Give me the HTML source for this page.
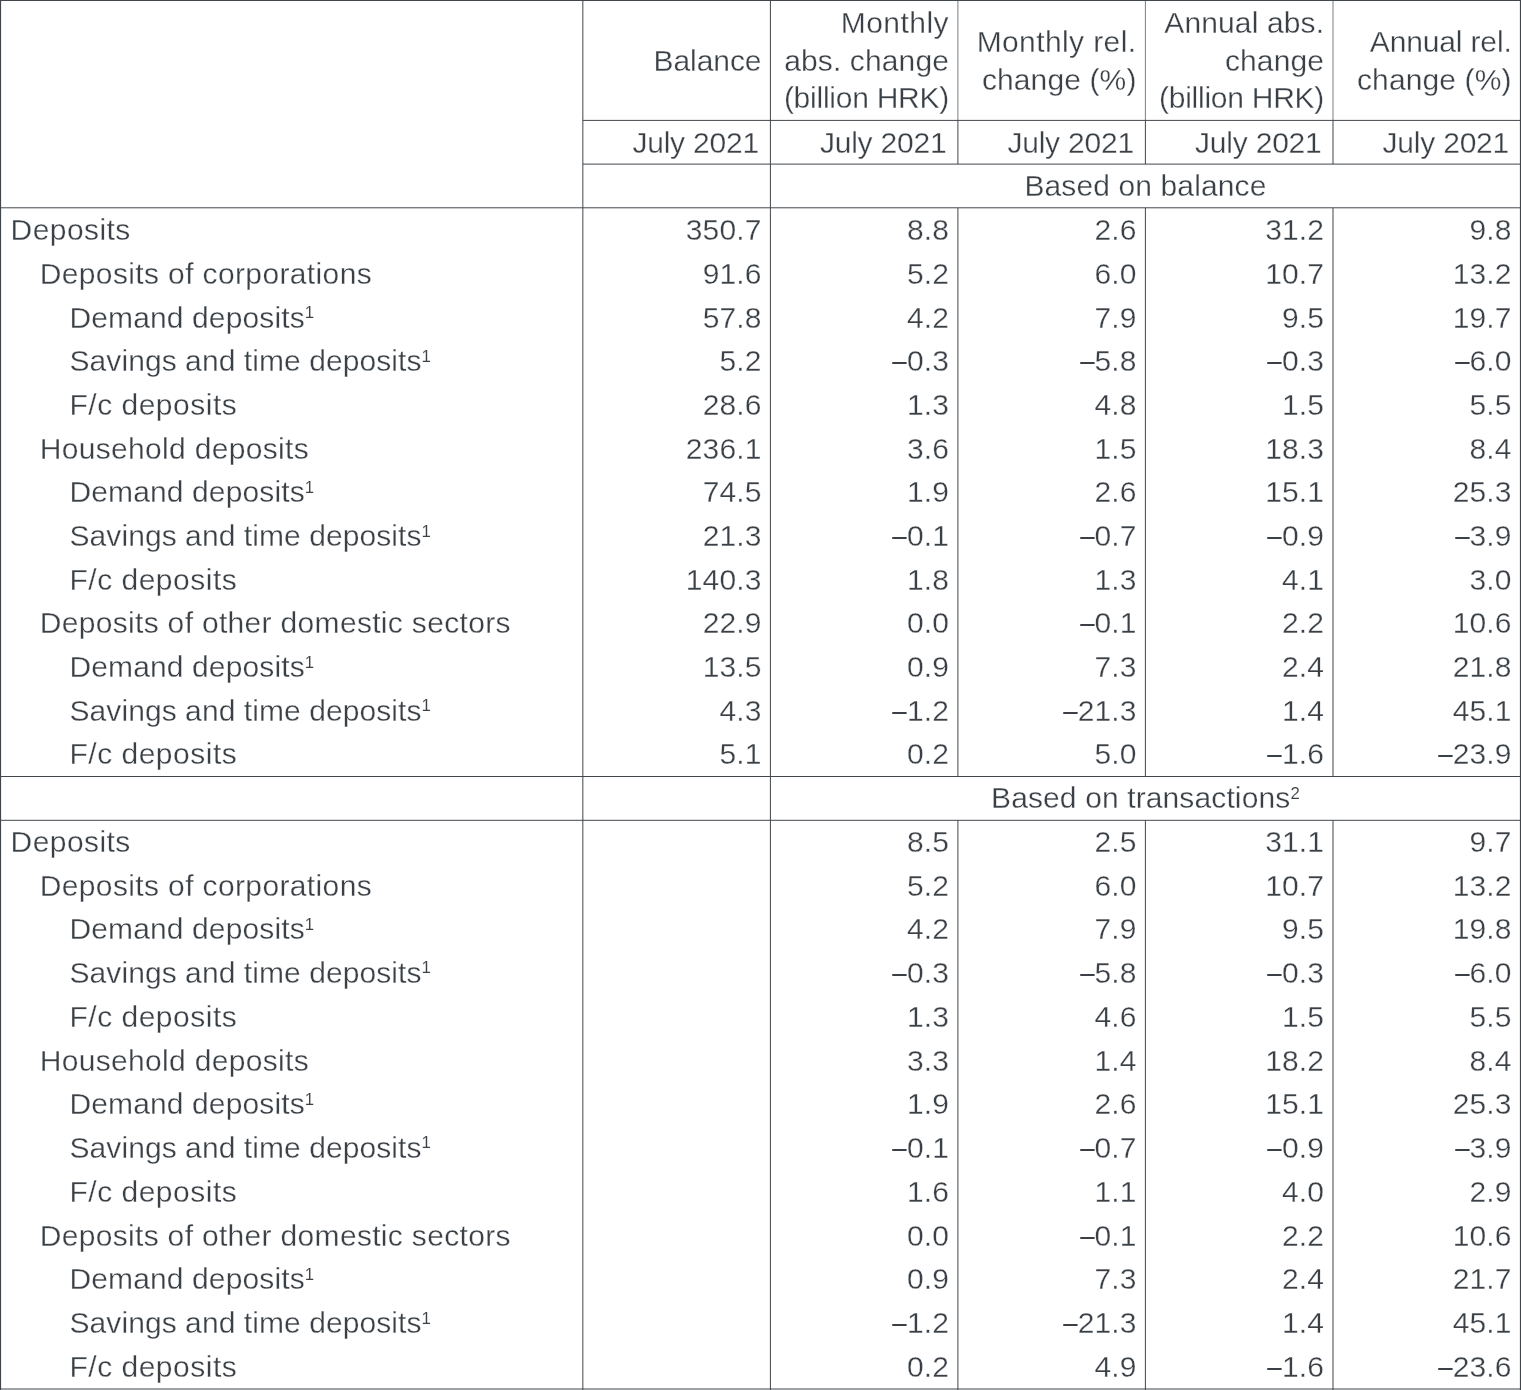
<!DOCTYPE html>
<html lang="en"><head><meta charset="utf-8"><title>Deposits</title>
<style>
html,body{margin:0;padding:0;background:#fff;}
body{width:1521px;height:1390px;position:relative;overflow:hidden;}
#g{position:absolute;left:0;top:0;}
#x{position:absolute;left:0;top:0;width:1521.00px;height:1390px;transform:scaleX(1.0);transform-origin:0 0;will-change:transform;
 font-family:"Liberation Sans",Arial,Helvetica,sans-serif;font-size:30.0px;line-height:32.0px;color:#3a4046;}
.t{position:absolute;white-space:nowrap;letter-spacing:0.12px;height:32.0px;-webkit-text-stroke:0.3px #fff;}
.l{text-align:left} .r{text-align:right} .c{text-align:center}

.d{display:inline-block;-webkit-text-stroke:0;transform:scaleX(0.86);transform-origin:100% 50%;}
sup{font-size:0.56em;line-height:0;vertical-align:baseline;position:relative;top:-0.55em;-webkit-text-stroke:0.1px #fff;}
</style></head><body>
<svg id="g" width="1521" height="1390" viewBox="0 0 1521 1390">
<line x1="0" y1="0.5" x2="1521" y2="0.5" stroke="#41464c" stroke-width="1.2"/>
<line x1="0" y1="1389.0" x2="1521" y2="1389.0" stroke="#41464c" stroke-width="1.2"/>
<line x1="0.5" y1="0" x2="0.5" y2="1390" stroke="#41464c" stroke-width="1.2"/>
<line x1="1520.5" y1="0" x2="1520.5" y2="1390" stroke="#41464c" stroke-width="1.2"/>
<line x1="582.85" y1="120.4" x2="1521" y2="120.4" stroke="#41464c" stroke-width="1.0"/>
<line x1="582.85" y1="164.1" x2="1521" y2="164.1" stroke="#41464c" stroke-width="1.0"/>
<line x1="0" y1="207.8" x2="1521" y2="207.8" stroke="#41464c" stroke-width="1.0"/>
<line x1="0" y1="776.5" x2="1521" y2="776.5" stroke="#41464c" stroke-width="1.0"/>
<line x1="0" y1="820.3" x2="1521" y2="820.3" stroke="#41464c" stroke-width="1.0"/>
<line x1="582.85" y1="0" x2="582.85" y2="1390" stroke="#41464c" stroke-width="1.0"/>
<line x1="770.4" y1="0" x2="770.4" y2="1390" stroke="#41464c" stroke-width="1.0"/>
<line x1="957.9" y1="0" x2="957.9" y2="120.4" stroke="#41464c" stroke-width="0.7"/>
<line x1="957.9" y1="120.4" x2="957.9" y2="164.1" stroke="#41464c" stroke-width="1.0"/>
<line x1="957.9" y1="207.8" x2="957.9" y2="776.5" stroke="#41464c" stroke-width="1.0"/>
<line x1="957.9" y1="820.3" x2="957.9" y2="1390" stroke="#41464c" stroke-width="1.0"/>
<line x1="1145.4" y1="0" x2="1145.4" y2="120.4" stroke="#41464c" stroke-width="0.7"/>
<line x1="1145.4" y1="120.4" x2="1145.4" y2="164.1" stroke="#41464c" stroke-width="1.0"/>
<line x1="1145.4" y1="207.8" x2="1145.4" y2="776.5" stroke="#41464c" stroke-width="1.0"/>
<line x1="1145.4" y1="820.3" x2="1145.4" y2="1390" stroke="#41464c" stroke-width="1.0"/>
<line x1="1333.0" y1="0" x2="1333.0" y2="120.4" stroke="#41464c" stroke-width="0.7"/>
<line x1="1333.0" y1="120.4" x2="1333.0" y2="164.1" stroke="#41464c" stroke-width="1.0"/>
<line x1="1333.0" y1="207.8" x2="1333.0" y2="776.5" stroke="#41464c" stroke-width="1.0"/>
<line x1="1333.0" y1="820.3" x2="1333.0" y2="1390" stroke="#41464c" stroke-width="1.0"/>
</svg>
<div id="x">
<div class="t r" style="left:361.50px;width:400.00px;top:44.95px;letter-spacing:-0.05px">Balance</div>
<div class="t r" style="left:549.00px;width:400.00px;top:7.46px;letter-spacing:0.45px">Monthly</div>
<div class="t r" style="left:549.00px;width:400.00px;top:44.95px">abs. change</div>
<div class="t r" style="left:549.00px;width:400.00px;top:82.45px;letter-spacing:-0.25px">(billion HRK)</div>
<div class="t r" style="left:736.50px;width:400.00px;top:26.21px;letter-spacing:0.4px">Monthly rel.</div>
<div class="t r" style="left:736.50px;width:400.00px;top:63.70px">change (%)</div>
<div class="t r" style="left:924.10px;width:400.00px;top:7.46px;letter-spacing:0.12px">Annual abs.</div>
<div class="t r" style="left:924.10px;width:400.00px;top:44.95px">change</div>
<div class="t r" style="left:924.10px;width:400.00px;top:82.45px;letter-spacing:-0.25px">(billion HRK)</div>
<div class="t r" style="left:1111.60px;width:400.00px;top:26.21px;letter-spacing:-0.15px">Annual rel.</div>
<div class="t r" style="left:1111.60px;width:400.00px;top:63.70px">change (%)</div>
<div class="t r" style="left:359.00px;width:400.00px;top:127.15px;letter-spacing:-0.2px">July 2021</div>
<div class="t r" style="left:546.50px;width:400.00px;top:127.15px;letter-spacing:-0.2px">July 2021</div>
<div class="t r" style="left:734.00px;width:400.00px;top:127.15px;letter-spacing:-0.2px">July 2021</div>
<div class="t r" style="left:921.60px;width:400.00px;top:127.15px;letter-spacing:-0.2px">July 2021</div>
<div class="t r" style="left:1109.10px;width:400.00px;top:127.15px;letter-spacing:-0.2px">July 2021</div>
<div class="t c" style="left:845.45px;width:600.00px;top:170.15px">Based on balance</div>
<div class="t l" style="left:10.60px;top:214.25px;letter-spacing:0.42px">Deposits</div>
<div class="t r" style="left:361.50px;width:400.00px;top:214.25px">350.7</div>
<div class="t r" style="left:549.00px;width:400.00px;top:214.25px">8.8</div>
<div class="t r" style="left:736.50px;width:400.00px;top:214.25px">2.6</div>
<div class="t r" style="left:924.10px;width:400.00px;top:214.25px">31.2</div>
<div class="t r" style="left:1111.60px;width:400.00px;top:214.25px">9.8</div>
<div class="t l" style="left:39.70px;top:257.93px;letter-spacing:0.37px">Deposits of corporations</div>
<div class="t r" style="left:361.50px;width:400.00px;top:257.93px">91.6</div>
<div class="t r" style="left:549.00px;width:400.00px;top:257.93px">5.2</div>
<div class="t r" style="left:736.50px;width:400.00px;top:257.93px">6.0</div>
<div class="t r" style="left:924.10px;width:400.00px;top:257.93px">10.7</div>
<div class="t r" style="left:1111.60px;width:400.00px;top:257.93px">13.2</div>
<div class="t l" style="left:69.50px;top:301.60px">Demand deposits<sup>1</sup></div>
<div class="t r" style="left:361.50px;width:400.00px;top:301.60px">57.8</div>
<div class="t r" style="left:549.00px;width:400.00px;top:301.60px">4.2</div>
<div class="t r" style="left:736.50px;width:400.00px;top:301.60px">7.9</div>
<div class="t r" style="left:924.10px;width:400.00px;top:301.60px">9.5</div>
<div class="t r" style="left:1111.60px;width:400.00px;top:301.60px">19.7</div>
<div class="t l" style="left:69.50px;top:345.27px;letter-spacing:0.07px">Savings and time deposits<sup>1</sup></div>
<div class="t r" style="left:361.50px;width:400.00px;top:345.27px">5.2</div>
<div class="t r" style="left:549.00px;width:400.00px;top:345.27px"><span class="d">–</span>0.3</div>
<div class="t r" style="left:736.50px;width:400.00px;top:345.27px"><span class="d">–</span>5.8</div>
<div class="t r" style="left:924.10px;width:400.00px;top:345.27px"><span class="d">–</span>0.3</div>
<div class="t r" style="left:1111.60px;width:400.00px;top:345.27px"><span class="d">–</span>6.0</div>
<div class="t l" style="left:69.50px;top:388.94px;letter-spacing:0.5px">F/c deposits</div>
<div class="t r" style="left:361.50px;width:400.00px;top:388.94px">28.6</div>
<div class="t r" style="left:549.00px;width:400.00px;top:388.94px">1.3</div>
<div class="t r" style="left:736.50px;width:400.00px;top:388.94px">4.8</div>
<div class="t r" style="left:924.10px;width:400.00px;top:388.94px">1.5</div>
<div class="t r" style="left:1111.60px;width:400.00px;top:388.94px">5.5</div>
<div class="t l" style="left:39.70px;top:432.61px;letter-spacing:0.32px">Household deposits</div>
<div class="t r" style="left:361.50px;width:400.00px;top:432.61px">236.1</div>
<div class="t r" style="left:549.00px;width:400.00px;top:432.61px">3.6</div>
<div class="t r" style="left:736.50px;width:400.00px;top:432.61px">1.5</div>
<div class="t r" style="left:924.10px;width:400.00px;top:432.61px">18.3</div>
<div class="t r" style="left:1111.60px;width:400.00px;top:432.61px">8.4</div>
<div class="t l" style="left:69.50px;top:476.28px">Demand deposits<sup>1</sup></div>
<div class="t r" style="left:361.50px;width:400.00px;top:476.28px">74.5</div>
<div class="t r" style="left:549.00px;width:400.00px;top:476.28px">1.9</div>
<div class="t r" style="left:736.50px;width:400.00px;top:476.28px">2.6</div>
<div class="t r" style="left:924.10px;width:400.00px;top:476.28px">15.1</div>
<div class="t r" style="left:1111.60px;width:400.00px;top:476.28px">25.3</div>
<div class="t l" style="left:69.50px;top:519.95px;letter-spacing:0.07px">Savings and time deposits<sup>1</sup></div>
<div class="t r" style="left:361.50px;width:400.00px;top:519.95px">21.3</div>
<div class="t r" style="left:549.00px;width:400.00px;top:519.95px"><span class="d">–</span>0.1</div>
<div class="t r" style="left:736.50px;width:400.00px;top:519.95px"><span class="d">–</span>0.7</div>
<div class="t r" style="left:924.10px;width:400.00px;top:519.95px"><span class="d">–</span>0.9</div>
<div class="t r" style="left:1111.60px;width:400.00px;top:519.95px"><span class="d">–</span>3.9</div>
<div class="t l" style="left:69.50px;top:563.62px;letter-spacing:0.5px">F/c deposits</div>
<div class="t r" style="left:361.50px;width:400.00px;top:563.62px">140.3</div>
<div class="t r" style="left:549.00px;width:400.00px;top:563.62px">1.8</div>
<div class="t r" style="left:736.50px;width:400.00px;top:563.62px">1.3</div>
<div class="t r" style="left:924.10px;width:400.00px;top:563.62px">4.1</div>
<div class="t r" style="left:1111.60px;width:400.00px;top:563.62px">3.0</div>
<div class="t l" style="left:39.70px;top:607.29px;letter-spacing:0.32px">Deposits of other domestic sectors</div>
<div class="t r" style="left:361.50px;width:400.00px;top:607.29px">22.9</div>
<div class="t r" style="left:549.00px;width:400.00px;top:607.29px">0.0</div>
<div class="t r" style="left:736.50px;width:400.00px;top:607.29px"><span class="d">–</span>0.1</div>
<div class="t r" style="left:924.10px;width:400.00px;top:607.29px">2.2</div>
<div class="t r" style="left:1111.60px;width:400.00px;top:607.29px">10.6</div>
<div class="t l" style="left:69.50px;top:650.96px">Demand deposits<sup>1</sup></div>
<div class="t r" style="left:361.50px;width:400.00px;top:650.96px">13.5</div>
<div class="t r" style="left:549.00px;width:400.00px;top:650.96px">0.9</div>
<div class="t r" style="left:736.50px;width:400.00px;top:650.96px">7.3</div>
<div class="t r" style="left:924.10px;width:400.00px;top:650.96px">2.4</div>
<div class="t r" style="left:1111.60px;width:400.00px;top:650.96px">21.8</div>
<div class="t l" style="left:69.50px;top:694.63px;letter-spacing:0.07px">Savings and time deposits<sup>1</sup></div>
<div class="t r" style="left:361.50px;width:400.00px;top:694.63px">4.3</div>
<div class="t r" style="left:549.00px;width:400.00px;top:694.63px"><span class="d">–</span>1.2</div>
<div class="t r" style="left:736.50px;width:400.00px;top:694.63px"><span class="d">–</span>21.3</div>
<div class="t r" style="left:924.10px;width:400.00px;top:694.63px">1.4</div>
<div class="t r" style="left:1111.60px;width:400.00px;top:694.63px">45.1</div>
<div class="t l" style="left:69.50px;top:738.29px;letter-spacing:0.5px">F/c deposits</div>
<div class="t r" style="left:361.50px;width:400.00px;top:738.29px">5.1</div>
<div class="t r" style="left:549.00px;width:400.00px;top:738.29px">0.2</div>
<div class="t r" style="left:736.50px;width:400.00px;top:738.29px">5.0</div>
<div class="t r" style="left:924.10px;width:400.00px;top:738.29px"><span class="d">–</span>1.6</div>
<div class="t r" style="left:1111.60px;width:400.00px;top:738.29px"><span class="d">–</span>23.9</div>
<div class="t c" style="left:845.45px;width:600.00px;top:782.36px">Based on transactions<sup>2</sup></div>
<div class="t l" style="left:10.60px;top:826.36px;letter-spacing:0.42px">Deposits</div>
<div class="t r" style="left:549.00px;width:400.00px;top:826.36px">8.5</div>
<div class="t r" style="left:736.50px;width:400.00px;top:826.36px">2.5</div>
<div class="t r" style="left:924.10px;width:400.00px;top:826.36px">31.1</div>
<div class="t r" style="left:1111.60px;width:400.00px;top:826.36px">9.7</div>
<div class="t l" style="left:39.70px;top:869.56px;letter-spacing:0.37px">Deposits of corporations</div>
<div class="t r" style="left:549.00px;width:400.00px;top:869.56px">5.2</div>
<div class="t r" style="left:736.50px;width:400.00px;top:869.56px">6.0</div>
<div class="t r" style="left:924.10px;width:400.00px;top:869.56px">10.7</div>
<div class="t r" style="left:1111.60px;width:400.00px;top:869.56px">13.2</div>
<div class="t l" style="left:69.50px;top:913.06px">Demand deposits<sup>1</sup></div>
<div class="t r" style="left:549.00px;width:400.00px;top:913.06px">4.2</div>
<div class="t r" style="left:736.50px;width:400.00px;top:913.06px">7.9</div>
<div class="t r" style="left:924.10px;width:400.00px;top:913.06px">9.5</div>
<div class="t r" style="left:1111.60px;width:400.00px;top:913.06px">19.8</div>
<div class="t l" style="left:69.50px;top:956.66px;letter-spacing:0.07px">Savings and time deposits<sup>1</sup></div>
<div class="t r" style="left:549.00px;width:400.00px;top:956.66px"><span class="d">–</span>0.3</div>
<div class="t r" style="left:736.50px;width:400.00px;top:956.66px"><span class="d">–</span>5.8</div>
<div class="t r" style="left:924.10px;width:400.00px;top:956.66px"><span class="d">–</span>0.3</div>
<div class="t r" style="left:1111.60px;width:400.00px;top:956.66px"><span class="d">–</span>6.0</div>
<div class="t l" style="left:69.50px;top:1001.36px;letter-spacing:0.5px">F/c deposits</div>
<div class="t r" style="left:549.00px;width:400.00px;top:1001.36px">1.3</div>
<div class="t r" style="left:736.50px;width:400.00px;top:1001.36px">4.6</div>
<div class="t r" style="left:924.10px;width:400.00px;top:1001.36px">1.5</div>
<div class="t r" style="left:1111.60px;width:400.00px;top:1001.36px">5.5</div>
<div class="t l" style="left:39.70px;top:1044.55px;letter-spacing:0.32px">Household deposits</div>
<div class="t r" style="left:549.00px;width:400.00px;top:1044.55px">3.3</div>
<div class="t r" style="left:736.50px;width:400.00px;top:1044.55px">1.4</div>
<div class="t r" style="left:924.10px;width:400.00px;top:1044.55px">18.2</div>
<div class="t r" style="left:1111.60px;width:400.00px;top:1044.55px">8.4</div>
<div class="t l" style="left:69.50px;top:1088.05px">Demand deposits<sup>1</sup></div>
<div class="t r" style="left:549.00px;width:400.00px;top:1088.05px">1.9</div>
<div class="t r" style="left:736.50px;width:400.00px;top:1088.05px">2.6</div>
<div class="t r" style="left:924.10px;width:400.00px;top:1088.05px">15.1</div>
<div class="t r" style="left:1111.60px;width:400.00px;top:1088.05px">25.3</div>
<div class="t l" style="left:69.50px;top:1131.65px;letter-spacing:0.07px">Savings and time deposits<sup>1</sup></div>
<div class="t r" style="left:549.00px;width:400.00px;top:1131.65px"><span class="d">–</span>0.1</div>
<div class="t r" style="left:736.50px;width:400.00px;top:1131.65px"><span class="d">–</span>0.7</div>
<div class="t r" style="left:924.10px;width:400.00px;top:1131.65px"><span class="d">–</span>0.9</div>
<div class="t r" style="left:1111.60px;width:400.00px;top:1131.65px"><span class="d">–</span>3.9</div>
<div class="t l" style="left:69.50px;top:1176.36px;letter-spacing:0.5px">F/c deposits</div>
<div class="t r" style="left:549.00px;width:400.00px;top:1176.36px">1.6</div>
<div class="t r" style="left:736.50px;width:400.00px;top:1176.36px">1.1</div>
<div class="t r" style="left:924.10px;width:400.00px;top:1176.36px">4.0</div>
<div class="t r" style="left:1111.60px;width:400.00px;top:1176.36px">2.9</div>
<div class="t l" style="left:39.70px;top:1219.55px;letter-spacing:0.32px">Deposits of other domestic sectors</div>
<div class="t r" style="left:549.00px;width:400.00px;top:1219.55px">0.0</div>
<div class="t r" style="left:736.50px;width:400.00px;top:1219.55px"><span class="d">–</span>0.1</div>
<div class="t r" style="left:924.10px;width:400.00px;top:1219.55px">2.2</div>
<div class="t r" style="left:1111.60px;width:400.00px;top:1219.55px">10.6</div>
<div class="t l" style="left:69.50px;top:1263.05px">Demand deposits<sup>1</sup></div>
<div class="t r" style="left:549.00px;width:400.00px;top:1263.05px">0.9</div>
<div class="t r" style="left:736.50px;width:400.00px;top:1263.05px">7.3</div>
<div class="t r" style="left:924.10px;width:400.00px;top:1263.05px">2.4</div>
<div class="t r" style="left:1111.60px;width:400.00px;top:1263.05px">21.7</div>
<div class="t l" style="left:69.50px;top:1306.86px;letter-spacing:0.07px">Savings and time deposits<sup>1</sup></div>
<div class="t r" style="left:549.00px;width:400.00px;top:1306.86px"><span class="d">–</span>1.2</div>
<div class="t r" style="left:736.50px;width:400.00px;top:1306.86px"><span class="d">–</span>21.3</div>
<div class="t r" style="left:924.10px;width:400.00px;top:1306.86px">1.4</div>
<div class="t r" style="left:1111.60px;width:400.00px;top:1306.86px">45.1</div>
<div class="t l" style="left:69.50px;top:1351.25px;letter-spacing:0.5px">F/c deposits</div>
<div class="t r" style="left:549.00px;width:400.00px;top:1351.25px">0.2</div>
<div class="t r" style="left:736.50px;width:400.00px;top:1351.25px">4.9</div>
<div class="t r" style="left:924.10px;width:400.00px;top:1351.25px"><span class="d">–</span>1.6</div>
<div class="t r" style="left:1111.60px;width:400.00px;top:1351.25px"><span class="d">–</span>23.6</div>
</div>
</body></html>
